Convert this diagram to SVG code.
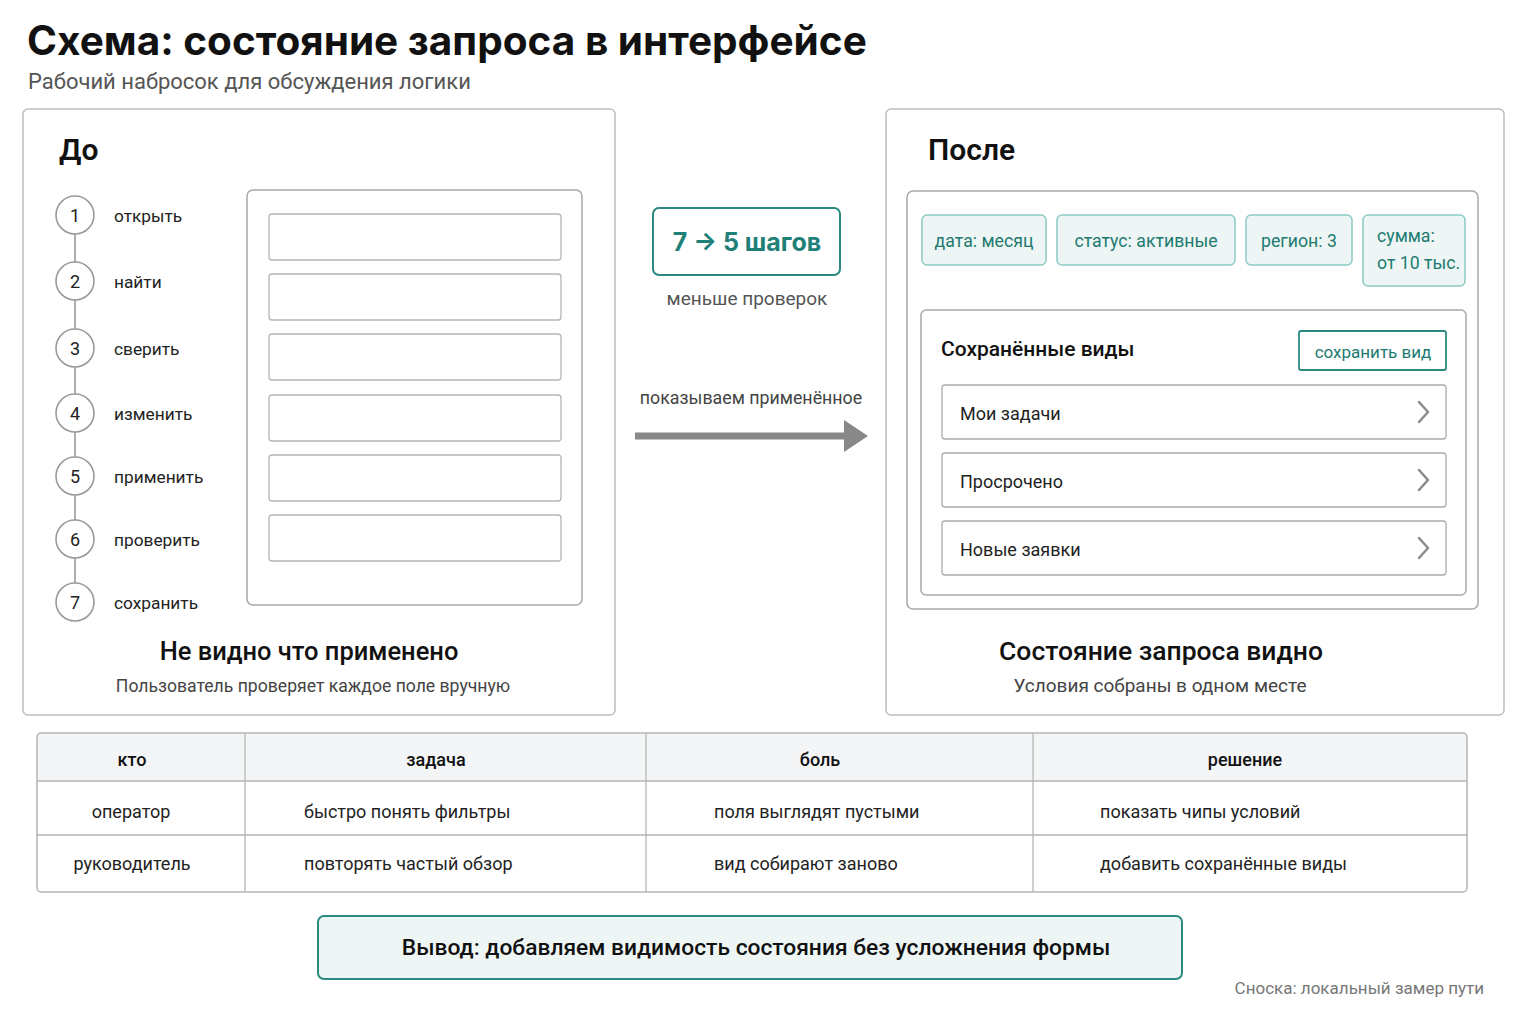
<svg xmlns="http://www.w3.org/2000/svg" width="1536" height="1024" viewBox="0 0 1536 1024">
<style>
text{font-family:Roboto,"Noto Sans","DejaVu Sans",sans-serif;fill:#222}
.panel{fill:#fff;stroke:#bdbdbd;stroke-width:1.5}
.inner{fill:#fff;stroke:#a8a8a8;stroke-width:1.5}
.field{fill:#fff;stroke:#b5b5b5;stroke-width:1.3}
.circ{fill:#fff;stroke:#9a9a9a;stroke-width:1.6}
.num{font-size:18px;text-anchor:middle;fill:#222}
.step{font-size:17.3px;fill:#222}
.h2{font-size:30px;font-weight:600;fill:#111}
.cap{font-weight:500;text-anchor:middle;fill:#111}
.sub{text-anchor:middle;fill:#444}
.chip{fill:#eef6f5;stroke:#8ccac3;stroke-width:1.5}
.chipt{font-size:17.7px;fill:#217a71}
.row{fill:#fff;stroke:#ababab;stroke-width:1.3}
.rowt{font-size:18px;fill:#222}
.chev{fill:none;stroke:#8a8a8a;stroke-width:2.5;stroke-linecap:round;stroke-linejoin:round}
.th{font-size:18px;font-weight:500;text-anchor:middle;fill:#111}
.td{font-size:18px;fill:#222}
.grid{stroke:#b5b5b5;stroke-width:1.3}
</style>

<rect width="1536" height="1024" fill="#fff"/>

<g id="title">
<text x="27" y="55" style="font-family:Inter,Roboto,sans-serif;font-size:40.5px;font-weight:700;fill:#111">Схема: состояние запроса в интерфейсе</text>
<text x="28" y="89" style="font-size:22px;fill:#555">Рабочий набросок для обсуждения логики</text>
</g>

<g id="before">
<rect class="panel" x="23" y="109" width="592" height="606" rx="5"/>
<text class="h2" x="59" y="160">До</text>
<g id="steps">
<line x1="75" y1="215" x2="75" y2="602" stroke="#9a9a9a" stroke-width="1.6"/>
<circle class="circ" cx="75" cy="215" r="19"/><text class="num" x="75" y="222">1</text><text class="step" x="114" y="222">открыть</text>
<circle class="circ" cx="75" cy="281" r="19"/><text class="num" x="75" y="288">2</text><text class="step" x="114" y="288">найти</text>
<circle class="circ" cx="75" cy="348" r="19"/><text class="num" x="75" y="355">3</text><text class="step" x="114" y="355">сверить</text>
<circle class="circ" cx="75" cy="413" r="19"/><text class="num" x="75" y="420">4</text><text class="step" x="114" y="420">изменить</text>
<circle class="circ" cx="75" cy="476" r="19"/><text class="num" x="75" y="483">5</text><text class="step" x="114" y="483">применить</text>
<circle class="circ" cx="75" cy="539" r="19"/><text class="num" x="75" y="546">6</text><text class="step" x="114" y="546">проверить</text>
<circle class="circ" cx="75" cy="602" r="19"/><text class="num" x="75" y="609">7</text><text class="step" x="114" y="609">сохранить</text>
</g>
<g id="form">
<rect class="inner" x="247" y="190" width="335" height="415" rx="6"/>
<rect class="field" x="269" y="214" width="292" height="46" rx="3"/>
<rect class="field" x="269" y="274" width="292" height="46" rx="3"/>
<rect class="field" x="269" y="334" width="292" height="46" rx="3"/>
<rect class="field" x="269" y="395" width="292" height="46" rx="3"/>
<rect class="field" x="269" y="455" width="292" height="46" rx="3"/>
<rect class="field" x="269" y="515" width="292" height="46" rx="3"/>
</g>
<text class="cap" x="309" y="660" style="font-size:25.5px">Не видно что применено</text>
<text class="sub" x="313" y="692" style="font-size:17.6px">Пользователь проверяет каждое поле вручную</text>
</g>

<g id="middle">
<rect x="653" y="208" width="187" height="67" rx="6" fill="#fff" stroke="#2a8a80" stroke-width="2"/>
<text x="747" y="251" style="font-family:Inter,Roboto,sans-serif;font-size:25px;font-weight:700;fill:#1f8078;text-anchor:middle">7 → 5 шагов</text>
<text x="747" y="305" style="font-size:19px;fill:#555;text-anchor:middle">меньше проверок</text>
</g>

<g id="connectors">
<text x="751" y="404" style="font-size:17.8px;fill:#444;text-anchor:middle">показываем применённое</text>
<line x1="635" y1="436" x2="846" y2="436" stroke="#888" stroke-width="7"/>
<polygon points="844,420 868,436 844,452" fill="#888"/>
</g>

<g id="after">
<rect class="panel" x="886" y="109" width="618" height="606" rx="5"/>
<text class="h2" x="928" y="160">После</text>
<rect class="inner" x="907" y="191" width="571" height="418" rx="6"/>
<g id="chips">
<rect class="chip" x="922" y="215" width="124" height="50" rx="5"/><text class="chipt" x="984" y="247" text-anchor="middle">дата: месяц</text>
<rect class="chip" x="1057" y="215" width="178" height="50" rx="5"/><text class="chipt" x="1146" y="247" text-anchor="middle">статус: активные</text>
<rect class="chip" x="1246" y="215" width="106" height="50" rx="5"/><text class="chipt" x="1299" y="247" text-anchor="middle">регион: 3</text>
<rect class="chip" x="1363" y="215" width="102" height="71" rx="5"/><text class="chipt" x="1377" y="242">сумма:</text><text class="chipt" x="1377" y="269">от 10 тыс.</text>
</g>
<g id="saved">
<rect class="inner" x="921" y="310" width="545" height="285" rx="5"/>
<text x="941" y="356" style="font-size:21px;font-weight:500;fill:#111">Сохранённые виды</text>
<rect x="1299" y="331" width="147" height="39" rx="2" fill="#fff" stroke="#2a8a80" stroke-width="1.8"/>
<text x="1373" y="358" style="font-size:17px;fill:#217a71;text-anchor:middle">сохранить вид</text>
<rect class="row" x="942" y="385" width="504" height="54" rx="3"/><text class="rowt" x="960" y="420">Мои задачи</text><polyline class="chev" points="1419,402 1428,412 1419,422"/>
<rect class="row" x="942" y="453" width="504" height="54" rx="3"/><text class="rowt" x="960" y="488">Просрочено</text><polyline class="chev" points="1419,470 1428,480 1419,490"/>
<rect class="row" x="942" y="521" width="504" height="54" rx="3"/><text class="rowt" x="960" y="556">Новые заявки</text><polyline class="chev" points="1419,538 1428,548 1419,558"/>
</g>
<text class="cap" x="1161" y="660" style="font-size:26.5px">Состояние запроса видно</text>
<text class="sub" x="1160" y="692" style="font-size:19px">Условия собраны в одном месте</text>
</g>

<g id="table">
<rect x="37" y="733" width="1430" height="159" rx="4" fill="#fff"/>
<path d="M41,733 H1463 A4,4 0 0 1 1467,737 V781 H37 V737 A4,4 0 0 1 41,733 Z" fill="#f3f5f6"/>
<rect x="37" y="733" width="1430" height="159" rx="4" fill="none" stroke="#b5b5b5" stroke-width="1.5"/>
<line class="grid" x1="37" y1="781" x2="1467" y2="781"/>
<line class="grid" x1="37" y1="835" x2="1467" y2="835"/>
<line class="grid" x1="245" y1="733" x2="245" y2="892"/>
<line class="grid" x1="646" y1="733" x2="646" y2="892"/>
<line class="grid" x1="1033" y1="733" x2="1033" y2="892"/>
<text class="th" x="132" y="766">кто</text>
<text class="th" x="436" y="766">задача</text>
<text class="th" x="820" y="766">боль</text>
<text class="th" x="1245" y="766">решение</text>
<text class="td" x="131" y="818" text-anchor="middle">оператор</text>
<text class="td" x="304" y="818">быстро понять фильтры</text>
<text class="td" x="714" y="818">поля выглядят пустыми</text>
<text class="td" x="1100" y="818">показать чипы условий</text>
<text class="td" x="132" y="870" text-anchor="middle">руководитель</text>
<text class="td" x="304" y="870">повторять частый обзор</text>
<text class="td" x="714" y="870">вид собирают заново</text>
<text class="td" x="1100" y="870">добавить сохранённые виды</text>
</g>

<g id="conclusion">
<rect x="318" y="916" width="864" height="63" rx="6" fill="#eef6f5" stroke="#2a8a80" stroke-width="2"/>
<text x="756" y="955" style="font-size:22.8px;font-weight:500;fill:#111;text-anchor:middle">Вывод: добавляем видимость состояния без усложнения формы</text>
</g>
<text x="1484" y="994" style="font-size:17px;fill:#777;text-anchor:end">Сноска: локальный замер пути</text>
</svg>
